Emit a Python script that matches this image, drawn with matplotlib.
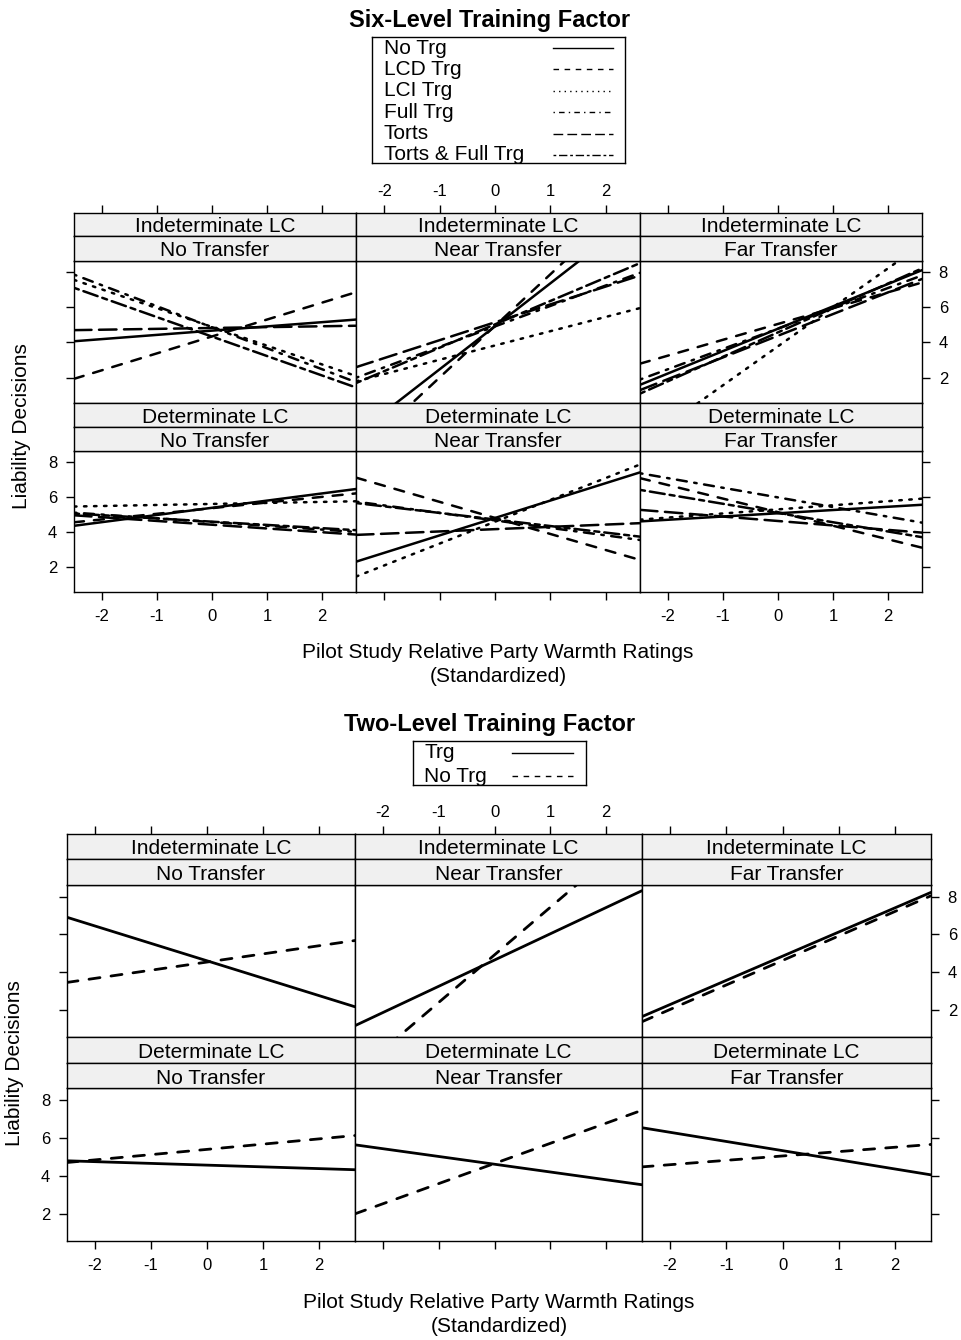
import matplotlib.pyplot as plt

plt.rcParams['font.family'] = ['Liberation Sans', 'DejaVu Sans']
plt.rcParams['axes.unicode_minus'] = False

W, H = 961, 1340

# panel order: Indeterminate No/Near/Far, Determinate No/Near/Far
lc_labels = ["Indeterminate LC"] * 3 + ["Determinate LC"] * 3
transfer_labels = ["No Transfer", "Near Transfer", "Far Transfer"] * 2
x_ticks = [-2, -1, 0, 1, 2]
y_ticks = [2, 4, 6, 8]
y_lim = [0.57, 8.62]

# six-level training factor: line value at left and right end of each panel
six_x = [-2.51, 2.62]
six_names = ["No Trg", "LCD Trg", "LCI Trg", "Full Trg", "Torts", "Torts & Full Trg"]
six_no_trg = [(4.07, 5.30), (-1.2, 11.3), (1.6, 8.1), (4.35, 6.45), (2.30, 7.4), (4.6, 5.55)]
six_lcd = [(1.94, 6.85), (-2.4, 12.6), (2.8, 7.4), (4.55, 6.2), (7.1, 2.4), (7.07, 3.1)]
six_lci = [(7.55, 2.1), (1.8, 5.95), (-1.76, 9.57), (5.45, 5.75), (1.45, 7.85), (4.7, 5.9)]
six_full = [(7.85, 1.75), (2.0, 7.95), (1.9, 7.8), (5.1, 4.0), (5.73, 3.54), (7.35, 4.53)]
six_torts = [(4.7, 4.95), (2.6, 7.8), (1.3, 7.6), (4.95, 3.85), (3.83, 4.5), (5.26, 3.96)]
six_torts_full = [(7.1, 1.45), (1.7, 8.5), (1.1, 8.2), (5.05, 4.1), (5.65, 3.73), (6.4, 3.7)]

# two-level training factor
two_x = [-2.5, 2.64]
two_names = ["Trg", "No Trg"]
two_trg = [(6.91, 2.17), (1.17, 8.32), (1.65, 8.23), (4.79, 4.32), (5.63, 3.53), (6.53, 4.05)]
two_no_trg = [(3.46, 5.68), (-1.38, 11.58), (1.38, 8.05), (4.70, 6.12), (2.0, 7.45), (4.47, 5.65)]

# R lty 1..6
six_styles = ["-", (0, (4, 4)), (0, (1, 3)), (0, (1, 3, 4, 3)), (0, (7, 3)), (0, (2, 2, 6, 2))]
two_styles = ["-", (0, (4, 4))]

fig = plt.figure(figsize=(W / 100, H / 100), dpi=100)


def box(l, t, r, b):
    return [l / W, 1 - b / H, (r - l) / W, (b - t) / H]


def tick_style(ax):
    ax.tick_params(direction="out", length=6, width=1, labelsize=12, pad=6,
                   colors="black")
    for s in ax.spines.values():
        s.set_linewidth(1)


def draw_block(cols, rows, strips, xr, series, styles, lw):
    for i in range(6):
        r, c = divmod(i, 3)
        t, b = rows[r]
        ax = fig.add_axes(box(cols[c], t, cols[c + 1], b))
        for vals, ls in zip(series, styles):
            ax.plot(xr, vals[i], color="black", lw=lw, linestyle=ls,
                    dash_capstyle="round", solid_capstyle="round")
        ax.set_xlim(xr)
        ax.set_ylim(y_lim)
        tick_style(ax)
        ax.set_xticks(x_ticks)
        ax.set_yticks(y_ticks)
        ax.tick_params(bottom=(r == 1), labelbottom=(r == 1 and c != 1),
                       left=(c == 0), labelleft=(c == 0 and r == 1),
                       right=(c == 2), labelright=(c == 2 and r == 0))
        # strips
        for k, (st, sb) in enumerate(strips[r]):
            sax = fig.add_axes(box(cols[c], st, cols[c + 1], sb))
            sax.set_facecolor("#f0f0f0")
            sax.set_xlim(xr)
            tick_style(sax)
            sax.set_yticks([])
            label = lc_labels[i] if k == 0 else transfer_labels[i]
            sax.text(0.5, 0.4, label, transform=sax.transAxes, ha="center",
                     va="center", fontsize=15)
            if r == 0 and k == 0:
                sax.set_xticks(x_ticks)
                sax.tick_params(bottom=False, labelbottom=False, top=True,
                                labeltop=(c == 1), pad=4)
            else:
                sax.set_xticks([])


def draw_legend(l, t, r, b, names, styles, text_x, line_x, rows_y):
    lax = fig.add_axes(box(l, t, r, b))
    lax.set_xlim(l, r)
    lax.set_ylim(b, t)
    lax.set_xticks([])
    lax.set_yticks([])
    for s in lax.spines.values():
        s.set_linewidth(1)
    for name, ls, y in zip(names, styles, rows_y):
        lax.text(text_x, y, name, fontsize=15, va="center", ha="left")
        lax.plot(line_x, [y, y], color="black", lw=1.0, linestyle=ls)


# ---- top block
fig.text(490 / W, 1 - 20 / H, "Six-Level Training Factor", ha="center",
         va="center", fontsize=17, fontweight="bold")
draw_legend(372, 37, 625, 163, six_names, six_styles, 384, [553, 613],
            [48 + 21.4 * k for k in range(6)])
draw_block([74, 356, 640, 922], [(261, 403), (451, 592)],
           [[(213, 236), (236, 261)], [(403, 427), (427, 451)]], six_x,
           [six_no_trg, six_lcd, six_lci, six_full, six_torts, six_torts_full],
           six_styles, 1.8)
fig.text(22 / W, 1 - 426 / H, "Liability Decisions", rotation=90, ha="center",
         va="center", fontsize=15)
fig.text(498 / W, 1 - 652 / H, "Pilot Study Relative Party Warmth Ratings",
         ha="center", va="center", fontsize=15)
fig.text(498 / W, 1 - 676 / H, "(Standardized)", ha="center", va="center",
         fontsize=15)

# ---- bottom block
fig.text(490 / W, 1 - 724 / H, "Two-Level Training Factor", ha="center",
         va="center", fontsize=17, fontweight="bold")
draw_legend(413, 741, 586, 785, two_names, two_styles, 424, [512, 573],
            [753, 776])
draw_block([67, 355, 642, 931], [(885, 1037), (1088, 1241)],
           [[(834, 859), (859, 885)], [(1037, 1063), (1063, 1088)]], two_x,
           [two_trg, two_no_trg], two_styles, 2.0)
fig.text(15 / W, 1 - 1063 / H, "Liability Decisions", rotation=90, ha="center",
         va="center", fontsize=15)
fig.text(499 / W, 1 - 1302 / H, "Pilot Study Relative Party Warmth Ratings",
         ha="center", va="center", fontsize=15)
fig.text(499 / W, 1 - 1327 / H, "(Standardized)", ha="center", va="center",
         fontsize=15)

fig.savefig("out.png", dpi=100)
